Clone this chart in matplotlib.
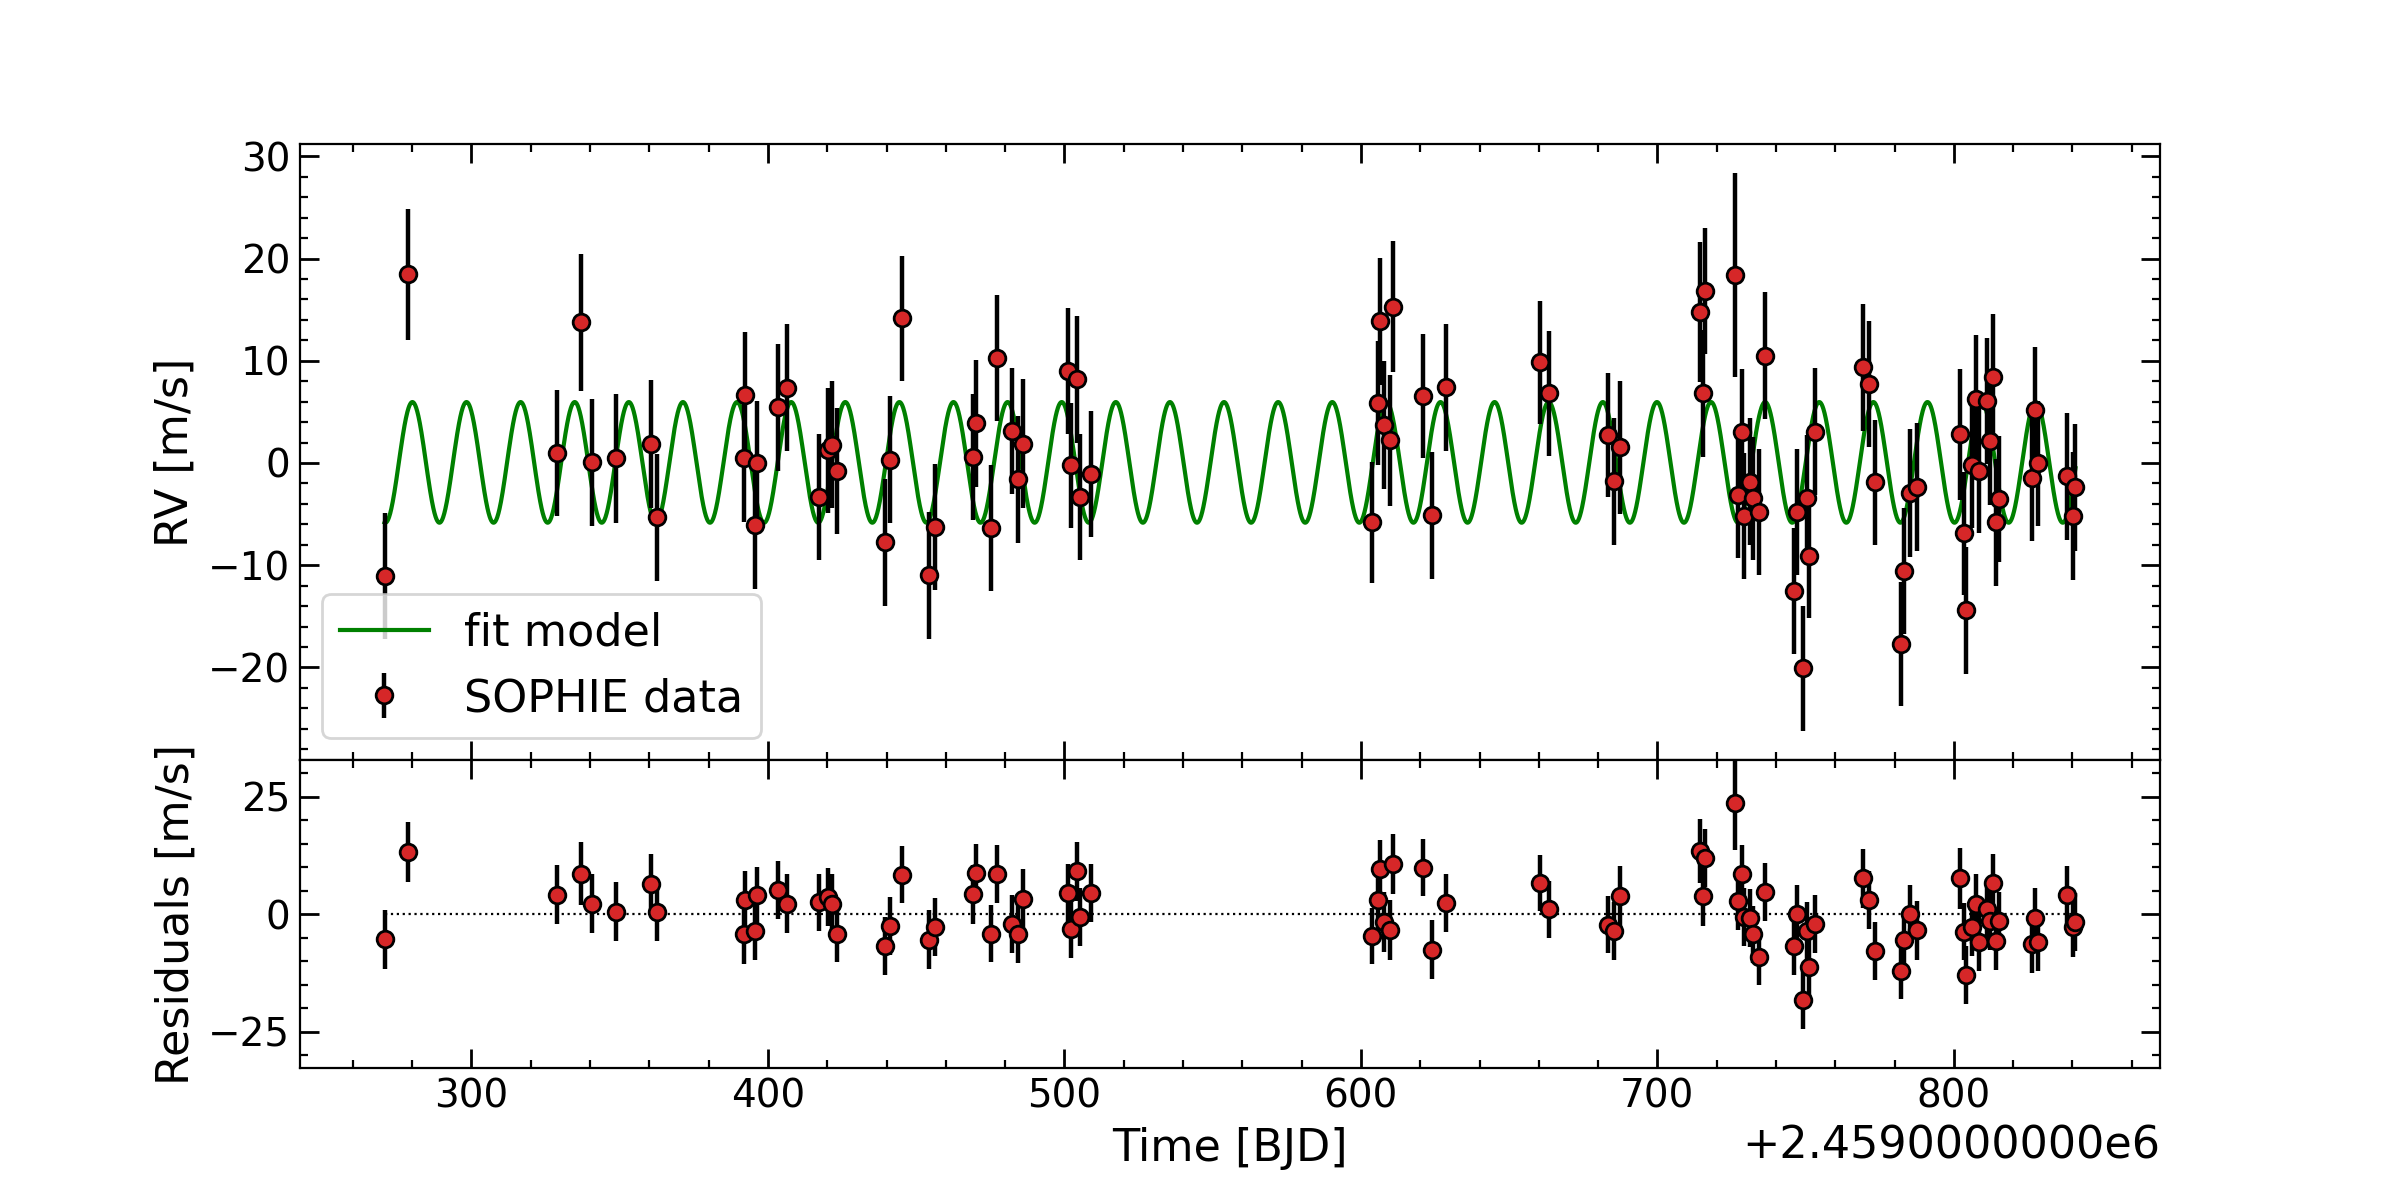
import math
import numpy as np
import matplotlib
matplotlib.use("Agg")
import matplotlib.pyplot as plt
from matplotlib.ticker import MultipleLocator, ScalarFormatter

# ---------------- data ----------------
BJD_OFFSET = 2459000.0

time_rel = [
    270.7, 278.7, 328.7, 336.8, 340.7, 348.6, 360.4, 362.65,
    391.8, 392.35, 395.5, 396.3, 403.4, 406.6,
    417.2, 420.4, 421.5, 423.4, 439.6, 441.2, 445.2, 454.3, 456.5,
    469.3, 470.3, 475.4, 477.4, 482.3, 484.5, 486.2,
    501.1, 502.2, 504.4, 505.4, 509.1,
    603.6, 605.7, 606.6, 607.7, 609.8, 610.8, 621.0, 623.9, 628.6,
    660.5, 663.6, 683.4, 685.4, 687.5,
    714.4, 715.5, 716.2, 726.3, 727.3, 728.4, 729.3, 731.2, 732.3, 734.2, 736.4,
    746.1, 747.2, 749.2, 750.3, 751.2, 753.1,
    769.5, 771.4, 773.5, 782.3, 783.3, 785.3, 787.4,
    802.2, 803.3, 804.2, 806.2, 807.3, 808.4, 811.3, 812.2, 813.3, 814.3, 815.2,
    826.2, 827.2, 828.3, 838.0, 840.3, 841.0,
]

rv = [
    -11.06, 18.45, 0.97, 13.77, 0.08, 0.46, 1.86, -5.30,
    0.46, 6.65, -6.11, 0.0, 5.45, 7.35,
    -3.33, 1.24, 1.78, -0.77, -7.77, 0.31, 14.15, -10.98, -6.26,
    0.58, 3.90, -6.38, 10.25, 3.13, -1.59, 1.89,
    8.97, -0.23, 8.20, -3.29, -1.08,
    -5.80, 5.88, 13.84, 3.71, 2.20, 15.27, 6.54, -5.10, 7.42,
    9.86, 6.81, 2.75, -1.78, 1.55,
    14.77, 6.81, 16.82, 18.37, -3.13, 3.02, -5.18, -1.82, -3.44, -4.80, 10.48,
    -12.53, -4.83, -20.07, -3.44, -9.09, 3.05,
    9.36, 7.73, -1.89, -17.71, -10.56, -2.94, -2.36,
    2.82, -6.88, -14.39, -0.23, 6.30, -0.77, 6.07, 2.13, 8.39, -5.80, -3.52,
    -1.47, 5.18, -0.04, -1.31, -5.18, -2.36,
]

rv_err = [
    6.2, 6.4, 6.2, 6.7, 6.2, 6.3, 6.25, 6.2,
    6.2, 6.2, 6.2, 6.1, 6.2, 6.2,
    6.15, 6.1, 6.2, 6.15, 6.2, 6.2, 6.1, 6.2, 6.15,
    6.2, 6.2, 6.15, 6.15, 6.15, 6.2, 6.3,
    6.15, 6.1, 6.2, 6.15, 6.15,
    5.9, 6.1, 6.2, 6.3, 6.4, 6.4, 6.1, 6.2, 6.2,
    6.0, 6.1, 6.1, 6.2, 6.5,
    6.8, 6.2, 6.2, 10.0, 6.2, 6.2, 6.15, 6.2, 6.0, 6.15, 6.2,
    6.2, 6.15, 6.13, 6.2, 6.1, 6.2,
    6.2, 6.2, 6.1, 6.1, 6.15, 6.24, 6.23,
    6.4, 6.0, 6.2, 6.1, 6.25, 6.1, 6.2, 6.2, 6.2, 6.2, 6.15,
    6.2, 6.2, 6.15, 6.2, 6.3, 6.2,
]

residuals = [
    -5.37, 13.2, 4.17, 8.63, 2.26, 0.57, 6.5, 0.5,
    -4.3, 3.1, -3.6, 4.0, 5.2, 2.26,
    2.5, 3.7, 2.26, -4.1, -6.8, -2.5, 8.4, -5.4, -2.7,
    4.2, 8.8, -4.1, 8.5, -2.1, -4.1, 3.3,
    4.5, -3.2, 9.1, -0.57, 4.5,
    -4.67, 2.97, 9.55, -1.63, -3.4, 10.6, 9.9, -7.5, 2.4,
    6.7, 1.06, -2.2, -3.5, 3.8,
    13.4, 3.8, 12.0, 23.7, 2.76, 8.5, -0.57, -0.78, -4.3, -9.0, 4.7,
    -6.8, 0.0, -18.3, -3.6, -11.3, -2.1,
    7.6, 2.97, -7.8, -12.0, -5.4, 0.0, -3.4,
    7.6, -3.7, -12.9, -2.7, 2.26, -6.0, 1.2, -1.4, 6.6, -5.6, -1.5,
    -6.4, -0.7, -6.0, 4.0, -2.7, -1.6,
]

# fitted sinusoidal model parameters
K_AMP = 5.9        # semi-amplitude [m/s]
PERIOD = 18.25     # days
T_PEAK = 280.09    # time of maximum (relative to BJD_OFFSET)
V_SYS = 0.06       # offset [m/s]


class LongOffsetFormatter(ScalarFormatter):
    """ScalarFormatter whose offset is written as e.g. +2.4590000000e6."""
    def format_data(self, value):
        e = math.floor(math.log10(abs(value)))
        s = round(value / 10 ** e, 10)
        significand = ("%d" % s) if s % 1 == 0 else ("%1.10f" % s)
        if e == 0:
            return significand
        return f"{significand}e{e}"


# ---------------- plotting ----------------
plt.rcParams.update({
    "font.family": "DejaVu Sans",
    "xtick.labelsize": 14,
    "ytick.labelsize": 14,
    "axes.labelsize": 16,
    "legend.fontsize": 16,
})

t = BJD_OFFSET + np.array(time_rel)
rv = np.array(rv)
rv_err = np.array(rv_err)
residuals = np.array(residuals)

t_model = np.linspace(t.min(), t.max(), 6000)
rv_model = V_SYS + K_AMP * np.cos(2 * np.pi * (t_model - (BJD_OFFSET + T_PEAK)) / PERIOD)

fig, (ax1, ax2) = plt.subplots(
    2, 1, sharex=True, figsize=(12, 6), dpi=200,
    gridspec_kw=dict(height_ratios=[2, 1], hspace=0),
)

red = "#d62728"
eb_kw = dict(fmt="o", color="k", ecolor="k", mfc=red, mec="k", ms=6, mew=1.0,
             elinewidth=1.6, capsize=0)

ax1.plot(t_model, rv_model, color="green", lw=1.5, label="fit model")
ax1.errorbar(t, rv, yerr=rv_err, label="SOPHIE data", **eb_kw)
ax1.set_ylabel("RV [m/s]")
ax1.set_ylim(-29.05, 31.2)
ax1.legend(loc="lower left")

ax2.errorbar(t, residuals, yerr=rv_err, **eb_kw)
ax2.plot([t.min(), t.max()], [0, 0], color="k", ls=":", lw=0.8, zorder=0)
ax2.set_ylim(-32.7, 32.8)
ax2.set_ylabel("Residuals [m/s]")
ax2.set_xlabel("Time [BJD]")

span = t.max() - t.min()
ax2.set_xlim(t.min() - 0.05 * span, t.max() + 0.05 * span)

ax1.yaxis.set_major_locator(MultipleLocator(10))
ax1.yaxis.set_minor_locator(MultipleLocator(2))
ax2.yaxis.set_major_locator(MultipleLocator(25))
ax2.yaxis.set_minor_locator(MultipleLocator(5))
ax2.xaxis.set_major_locator(MultipleLocator(100))
ax2.xaxis.set_minor_locator(MultipleLocator(20))
ax2.xaxis.set_major_formatter(LongOffsetFormatter())
ax2.xaxis.get_offset_text().set_fontsize(16)

for ax in (ax1, ax2):
    ax.tick_params(which="both", direction="in", top=True, right=True)
    ax.tick_params(which="major", length=7, width=1.0)
    ax.tick_params(which="minor", length=3, width=0.8)

fig.savefig("out.png", dpi=200)
